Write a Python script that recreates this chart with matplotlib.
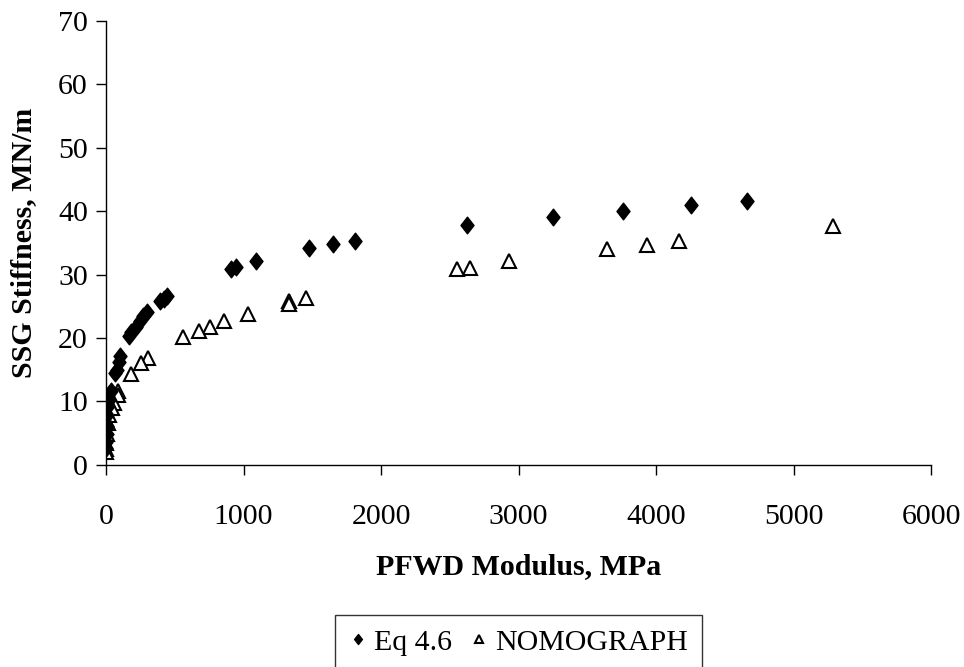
import matplotlib
matplotlib.use("Agg")
import matplotlib.pyplot as plt
from matplotlib.path import Path

eq_x = [4660, 4254, 3762, 3248, 2627, 1810, 1653, 1479, 1090, 943, 907, 440, 420, 395,
        300, 270, 245, 215, 185, 165, 104, 94, 80, 68, 35, 20, 15, 10, 8, 5, 3, 2]
eq_y = [41.6, 41.0, 40.0, 39.1, 37.8, 35.3, 34.8, 34.1, 32.2, 31.2, 30.9, 26.6, 26.2, 25.8,
        24.1, 23.4, 22.6, 21.8, 21.0, 20.3, 17.2, 16.2, 15.0, 14.5, 11.7, 10.3, 9.3, 7.8, 6.2, 4.8, 3.6, 2.6]

nom_x = [5286, 4169, 3932, 3646, 2931, 2645, 2551, 1452, 1332, 1332, 1032, 858, 755, 679, 563,
         304, 255, 179, 90, 85, 60, 40, 25, 12, 5, 3, 2, 1]
nom_y = [37.7, 35.3, 34.6, 34.0, 32.1, 31.1, 30.9, 26.3, 25.9, 25.4, 23.8, 22.7, 21.7, 21.1, 20.1,
         16.8, 16.0, 14.4, 11.6, 11.0, 9.8, 9.0, 7.8, 6.6, 4.9, 3.5, 2.5, 2.0]

x_ticks = [0, 1000, 2000, 3000, 4000, 5000, 6000]
y_ticks = [0, 10, 20, 30, 40, 50, 60, 70]

plt.rcParams['font.family'] = ['Liberation Serif', 'DejaVu Serif']

diamond = Path([(0, 1), (0.78, 0), (0, -1), (-0.78, 0), (0, 1)],
               [Path.MOVETO, Path.LINETO, Path.LINETO, Path.LINETO, Path.CLOSEPOLY])

fig = plt.figure(figsize=(9.64, 6.67), dpi=100)
ax = fig.add_axes([0.110, 0.303, 0.856, 0.666])

ax.plot(eq_x, eq_y, linestyle='none', marker=diamond, markersize=12,
        markerfacecolor='black', markeredgecolor='black', label='Eq 4.6', zorder=3)
ax.plot(nom_x, nom_y, linestyle='none', marker='^', markersize=10,
        markerfacecolor='white', markeredgecolor='black', markeredgewidth=1.5,
        label='NOMOGRAPH', zorder=2)

ax.set_xlim(0, 6000)
ax.set_ylim(0, 70)
ax.set_xticks(x_ticks)
ax.set_yticks(y_ticks)
ax.tick_params(axis='both', labelsize=21.5, direction='out', length=7, width=1, colors='black')
ax.tick_params(axis='x', pad=21)
ax.tick_params(axis='y', pad=6)
for s in ['top', 'right']:
    ax.spines[s].set_visible(False)
for s in ['left', 'bottom']:
    ax.spines[s].set_linewidth(1)

ax.set_xlabel('PFWD Modulus, MPa', fontsize=21.5, fontweight='bold', labelpad=17)
ax.set_ylabel('SSG Stiffness, MN/m', fontsize=21.5, fontweight='bold', labelpad=15)

leg = fig.legend(loc='center', bbox_to_anchor=(0.538, 0.037), ncol=2, fontsize=21.5,
                 frameon=True, fancybox=False, edgecolor='black', handletextpad=0.25,
                 columnspacing=0.6, handlelength=0.6, borderpad=0.45, borderaxespad=0,
                 markerscale=0.6)
leg.get_frame().set_linewidth(1)

fig.savefig('out.png', dpi=100)
